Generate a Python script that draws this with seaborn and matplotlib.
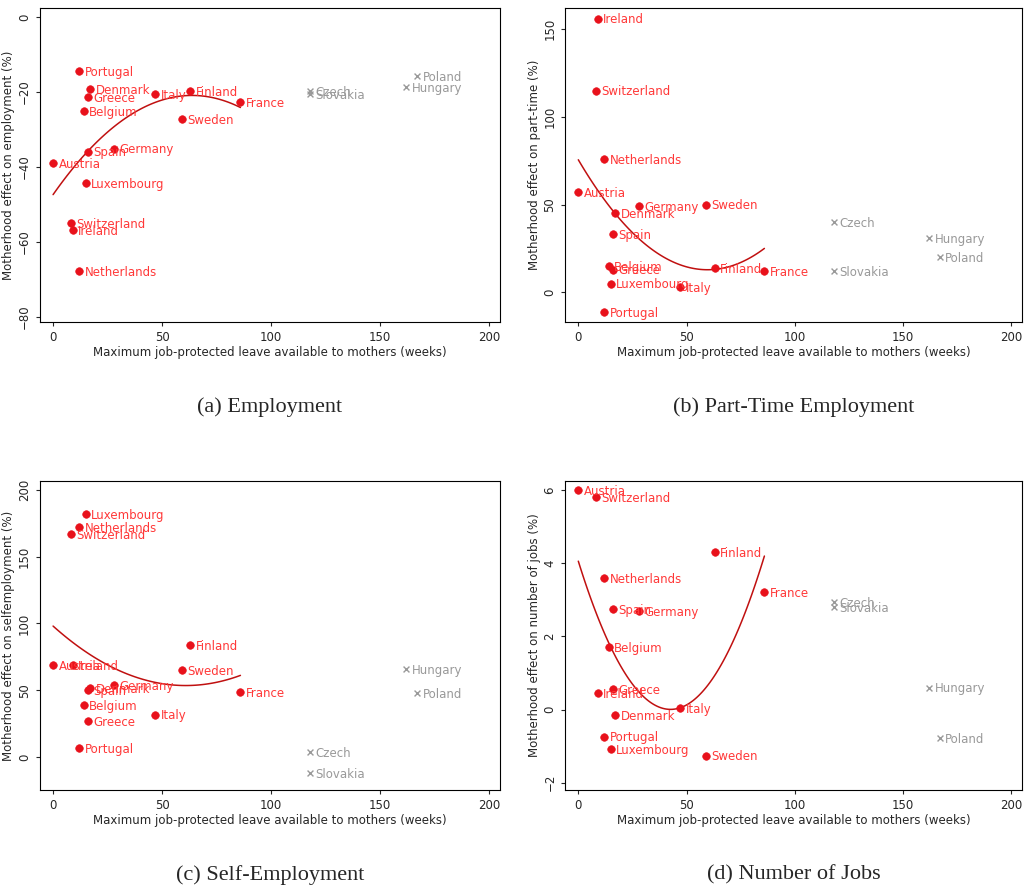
import numpy as np
import pandas as pd
import matplotlib
matplotlib.use("Agg")
import matplotlib.pyplot as plt
import seaborn as sns

sns.set_style("white")
plt.rcParams['font.family'] = ['DejaVu Sans']

countries = ["Austria", "Switzerland", "Ireland", "Netherlands", "Portugal", "Belgium",
             "Luxembourg", "Greece", "Denmark", "Spain", "Germany", "Italy", "Sweden",
             "Finland", "France", "Czech", "Slovakia", "Hungary", "Poland"]
leave_weeks = [0, 8, 9, 12, 12, 14, 15, 16, 17, 16, 28, 47, 59, 63, 86, 118, 118, 162, 167]
group = ["west"] * 15 + ["east"] * 4

employment = [-38.9, -54.9, -56.8, -67.8, -14.3, -25.1, -44.3, -21.4, -19.2, -35.9,
              -35.1, -20.5, -27.3, -19.7, -22.7, -19.7, -20.5, -18.6, -15.7]
part_time = [57, 115, 156, 76, -11, 15, 5, 13, 45, 33, 49, 3, 50, 14, 12, 40, 12, 31, 20]
self_emp = [69, 167, 69, 172, 7, 39, 182, 27, 52, 50, 54, 32, 65, 84, 49, 4, -12, 66, 48]
num_jobs = [6.0, 5.8, 0.46, 3.6, -0.74, 1.7, -1.07, 0.57, -0.16, 2.75, 2.7, 0.03, -1.26,
            4.3, 3.2, 2.95, 2.8, 0.6, -0.77]

panels = [
    ("(a) Employment", employment, "Motherhood effect on employment (%)",
     [0.039, 0.638, 0.448, 0.353], (-81.4, 2.4), [0, -20, -40, -60, -80]),
    ("(b) Part-Time Employment", part_time, "Motherhood effect on part-time (%)",
     [0.551, 0.638, 0.445, 0.353], (-17, 162), [0, 50, 100, 150]),
    ("(c) Self-Employment", self_emp, "Motherhood effect on selfemployment (%)",
     [0.039, 0.112, 0.448, 0.348], (-24.6, 206.7), [0, 50, 100, 150, 200]),
    ("(d) Number of Jobs", num_jobs, "Motherhood effect on number of jobs (%)",
     [0.551, 0.112, 0.445, 0.348], (-2.21, 6.26), [-2, 0, 2, 4, 6]),
]

red = "#e8111b"
txtred = "#ff3838"
gray = "#999999"

fig = plt.figure(figsize=(10.26, 8.9), dpi=100)
for title, vals, ylabel, rect, ylim, yticks in panels:
    ax = fig.add_axes(rect)
    df = pd.DataFrame({"country": countries, "x": leave_weeks, "y": vals, "group": group})
    west = df[df.group == "west"]
    east = df[df.group == "east"]
    sns.scatterplot(data=west, x="x", y="y", ax=ax, color=red, s=30, edgecolor=red, zorder=3)
    sns.scatterplot(data=east, x="x", y="y", ax=ax, color=gray, marker="x", s=18,
                    linewidth=1, zorder=3)
    # quadratic fit over the western countries
    coef = np.polyfit(west.x, west.y, 2)
    xs = np.linspace(west.x.min(), west.x.max(), 100)
    sns.lineplot(x=xs, y=np.polyval(coef, xs), ax=ax, color="#c01010", linewidth=1.1)
    for _, r in df.iterrows():
        ax.annotate(r.country, (r.x, r.y), xytext=(4, -1), textcoords="offset points",
                    fontsize=8.5, color=txtred if r.group == "west" else gray, va="center")
    ax.set_xlim(-6, 205)
    ax.set_ylim(*ylim)
    ax.set_xticks([0, 50, 100, 150, 200])
    ax.set_yticks(yticks)
    ax.tick_params(axis="both", labelsize=8.5, length=3, direction="out", left=True, bottom=True)
    for lbl in ax.get_yticklabels():
        lbl.set_rotation(90)
        lbl.set_va("center")
    ax.set_xlabel("Maximum job-protected leave available to mothers (weeks)", fontsize=8.5, labelpad=1)
    ax.set_ylabel(ylabel, fontsize=8.5, labelpad=2)
    for sp in ax.spines.values():
        sp.set_color("black")
        sp.set_linewidth(0.8)
    cx = rect[0] + rect[2] / 2
    fig.text(cx, rect[1] - 0.095, title, ha="center", va="center", fontsize=16,
             family=["Liberation Serif", "DejaVu Serif"])

fig.savefig("out.png", dpi=100)
